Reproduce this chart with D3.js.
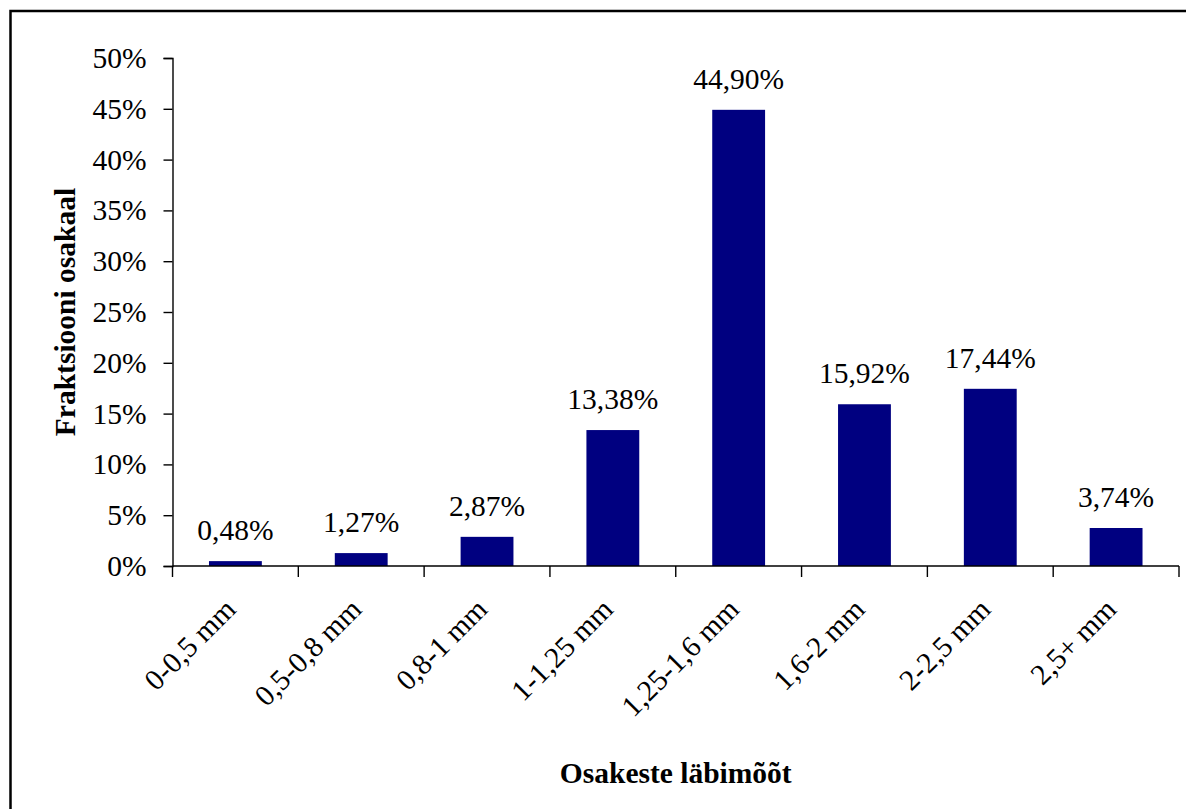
<!DOCTYPE html>
<html>
<head>
<meta charset="utf-8">
<script src="https://cdn.jsdelivr.net/npm/d3@7"></script>
<style>
  body { margin: 0; background: #fff; }
  svg text { font-family: "Liberation Serif", "Times New Roman", serif; fill: #000; }
</style>
</head>
<body>
<div id="chart"></div>
<script>
// data
var categories = ["0-0,5 mm", "0,5-0,8 mm", "0,8-1 mm", "1-1,25 mm", "1,25-1,6 mm", "1,6-2 mm", "2-2,5 mm", "2,5+ mm"];
var shares = [0.48, 1.27, 2.87, 13.38, 44.90, 15.92, 17.44, 3.74];
var yTicks = [0, 5, 10, 15, 20, 25, 30, 35, 40, 45, 50];
var xTitle = "Osakeste läbimõõt";
var yTitle = "Fraktsiooni osakaal";

var W = 1186, H = 809;
var margin = { top: 58, left: 172.5, right: 7, bottom: 243 };

var svg = d3.select("#chart").append("svg")
    .attr("width", W)
    .attr("height", H);

// outer frame (runs past the right and bottom edge, like the original)
svg.append("rect")
    .attr("x", 10.5).attr("y", 11)
    .attr("width", W + 20).attr("height", H + 20)
    .attr("fill", "none")
    .attr("stroke", "#000")
    .attr("stroke-width", 2.5);

var x = d3.scaleBand()
    .domain(categories)
    .range([margin.left, W - margin.right])
    .paddingInner(0.58)
    .paddingOuter(0.29);

var y = d3.scaleLinear()
    .domain([0, 50])
    .range([H - margin.bottom, margin.top]);

var fmt = function (v) { return v.toFixed(2).replace(".", ",") + "%"; };

// bars
svg.selectAll(".bar")
    .data(shares)
    .enter().append("rect")
    .attr("class", "bar")
    .attr("x", function (d, i) { return x(categories[i]); })
    .attr("y", function (d) { return y(d); })
    .attr("width", x.bandwidth())
    .attr("height", function (d) { return y(0) - y(d); })
    .attr("fill", "#000080");

// value labels
svg.selectAll(".val")
    .data(shares)
    .enter().append("text")
    .attr("class", "val")
    .attr("x", function (d, i) { return x(categories[i]) + x.bandwidth() / 2; })
    .attr("y", function (d) { return y(d) - 21; })
    .attr("text-anchor", "middle")
    .style("font-size", "29.5px")
    .text(fmt);

// y axis
var yAxis = svg.append("g")
    .attr("transform", "translate(" + margin.left + ",0)")
    .call(d3.axisLeft(y).tickValues(yTicks).tickSize(9).tickPadding(17)
        .tickFormat(function (d) { return d + "%"; }));
yAxis.selectAll("text").style("font-size", "29.5px");
yAxis.select(".domain").attr("stroke-width", 1.4);
yAxis.selectAll(".tick line").attr("stroke-width", 1.4);

// x axis: ticks between categories
var step = x.step();
var xAxis = svg.append("g")
    .attr("transform", "translate(0," + y(0) + ")");
xAxis.append("line")
    .attr("x1", margin.left).attr("x2", W - margin.right)
    .attr("stroke", "#000").attr("stroke-width", 1.4);
xAxis.selectAll(".xt")
    .data(d3.range(categories.length + 1))
    .enter().append("line")
    .attr("class", "xt")
    .attr("x1", function (i) { return margin.left + i * step; })
    .attr("x2", function (i) { return margin.left + i * step; })
    .attr("y1", 0).attr("y2", 11)
    .attr("stroke", "#000").attr("stroke-width", 1.4);
xAxis.selectAll(".xl")
    .data(categories)
    .enter().append("text")
    .attr("class", "xl")
    .attr("text-anchor", "end")
    .attr("transform", function (d) {
        return "translate(" + (x(d) + x.bandwidth() / 2 + 2) + ",45) rotate(-45)";
    })
    .style("font-size", "29.5px")
    .text(function (d) { return d; });

// titles
svg.append("text")
    .attr("x", (margin.left + W - margin.right) / 2)
    .attr("y", 783)
    .attr("text-anchor", "middle")
    .style("font-size", "29.5px")
    .style("font-weight", "bold")
    .text(xTitle);

svg.append("text")
    .attr("transform", "translate(75," + (y(25)) + ") rotate(-90)")
    .attr("text-anchor", "middle")
    .style("font-size", "29.5px")
    .style("font-weight", "bold")
    .text(yTitle);
</script>
</body>
</html>
